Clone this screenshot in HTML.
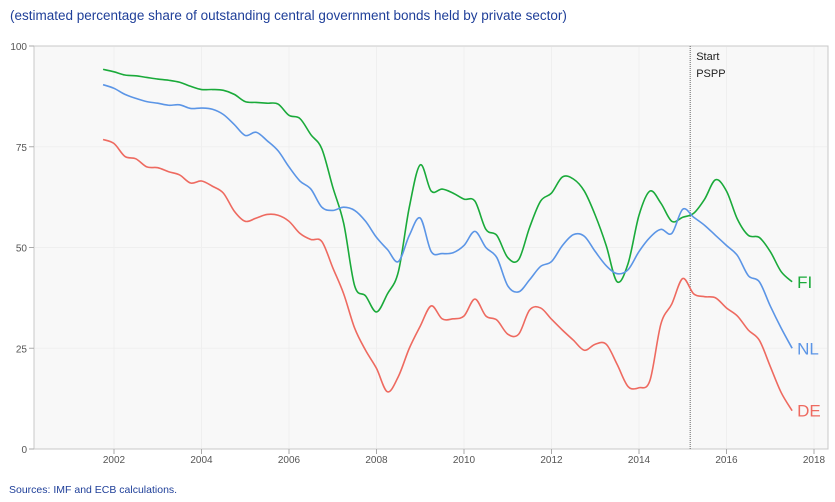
<!DOCTYPE html>
<html><head><meta charset="utf-8"><style>
body{margin:0;background:#fff;width:835px;height:497px;overflow:hidden;font-family:"Liberation Sans",sans-serif}
</style></head><body>
<svg width="835" height="497" id="chart">
<text x="10" y="20" font-size="13.5" fill="#1f3f99">(estimated percentage share of outstanding central government bonds held by private sector)</text>
<text x="9" y="493" font-size="10.5" fill="#1f3f99">Sources: IMF and ECB calculations.</text>
<rect x="34" y="46" width="794" height="403" fill="#f8f8f8" stroke="#c8c8c8"/>
<g id="axes"></g>
<g id="series"></g>
</svg>
<script>
const years=[2001.75,2002,2002.25,2002.5,2002.75,2003,2003.25,2003.5,2003.75,2004,2004.25,2004.5,2004.75,2005,2005.25,2005.5,2005.75,2006,2006.25,2006.5,2006.75,2007,2007.25,2007.5,2007.75,2008,2008.25,2008.5,2008.75,2009,2009.25,2009.5,2009.75,2010,2010.25,2010.5,2010.75,2011,2011.25,2011.5,2011.75,2012,2012.25,2012.5,2012.75,2013,2013.25,2013.5,2013.75,2014,2014.25,2014.5,2014.75,2015,2015.25,2015.5,2015.75,2016,2016.25,2016.5,2016.75,2017,2017.25,2017.5];
const fiValues=[94.2,93.6,92.8,92.6,92.2,91.8,91.5,91,90,89.2,89.2,89,88,86.2,86,85.8,85.6,82.8,82,78,74.5,65,56,40.5,38,34,38.5,44,60,70.5,64,64.5,63.5,62,61.5,54.5,53,47.5,47,55,61.5,63.5,67.5,67,64,58,50.5,41.5,46,58,64,61,56.5,57.5,58.5,62,66.8,64,57,53,52.5,49,44,41.5];
const nlValues=[90.4,89.5,88,87,86.2,85.8,85.3,85.4,84.5,84.6,84.3,83,80.5,77.8,78.6,76.5,74,70,66.5,64.5,60,59.2,60,59.2,56.5,52.5,49.5,46.5,53,57.3,49,48.5,48.7,50.5,54,50,47.5,40.5,39,42,45.3,46.5,50.5,53.2,52.8,49,45.5,43.5,44.5,49,52.5,54.5,53.5,59.5,57.5,55.5,53,50.5,48,43,41.5,35.5,30,25];
const deValues=[76.8,75.8,72.6,72,70,69.8,68.8,68,66,66.5,65.2,63.5,59,56.5,57.3,58.2,58,56.5,53.5,52,51.5,45,38.5,30,24.5,20,14.2,18,25,30.5,35.5,32.3,32.3,33,37.2,33,32,28.5,28.5,34.5,35,32.2,29.5,27,24.5,26,26,21,15.5,15.2,17,31,36,42.3,38.5,37.8,37.5,35,33,29.5,27,20.5,14,9.5];
const yTicks=[0,25,50,75,100];
const xTicks=[2002,2004,2006,2008,2010,2012,2014,2016,2018];
const seriesNames=["FI","NL","DE"];
const psppYear=2015.17;

const ns="http://www.w3.org/2000/svg";
const X=y=>114+(y-2002)*43.75;
const Y=v=>449-v*4.03;
const axes=document.getElementById('axes'),sg=document.getElementById('series');
function mk(tag,at,parent){const e=document.createElementNS(ns,tag);for(const k in at)e.setAttribute(k,at[k]);parent.appendChild(e);return e;}
yTicks.forEach(t=>{
  if(t>0&&t<100){const g=mk('line',{x1:35,x2:827,y1:Y(t),y2:Y(t),stroke:'#efefef'},axes);
  
  }
  const tk=mk('line',{x1:29,x2:34,y1:Y(t),y2:Y(t),stroke:'#aaa'},axes);
  
  
  const l=mk('text',{x:27,y:Y(t)+4,'font-size':10,'text-anchor':'end',fill:'#555'},axes);l.textContent=t;
  
  
});
xTicks.forEach(t=>{
  const g=mk('line',{x1:X(t),x2:X(t),y1:47,y2:448,stroke:'#efefef'},axes);
  
  
  const tk=mk('line',{x1:X(t),x2:X(t),y1:449,y2:454,stroke:'#aaa'},axes);
  
  
  const l=mk('text',{x:X(t),y:463,'font-size':10,'text-anchor':'middle',fill:'#555'},axes);l.textContent=t;
  
  
});
const vl=mk('line',{x1:X(psppYear),x2:X(psppYear),y1:46,y2:449,stroke:'#666','stroke-dasharray':'1,1'},axes);


[['Start',60],['PSPP',77]].forEach(([s,yy])=>{const t=mk('text',{x:X(psppYear)+6,y:yy,'font-size':11,fill:'#222'},axes);t.textContent=s;

});
function path(vals){const p=years.map((y,i)=>[X(y),Y(vals[i])]);let d='M'+p[0][0]+','+p[0][1];
  for(let i=0;i<p.length-1;i++){const p0=p[Math.max(0,i-1)],p1=p[i],p2=p[i+1],p3=p[Math.min(p.length-1,i+2)];
  d+=` C${p1[0]+(p2[0]-p0[0])/6},${p1[1]+(p2[1]-p0[1])/6} ${p2[0]-(p3[0]-p1[0])/6},${p2[1]-(p3[1]-p1[1])/6} ${p2[0]},${p2[1]}`;}return d;}
const data=[fiValues,nlValues,deValues],cols=['#1aaa3a','#5b95e6','#ee6a60'];
data.forEach((v,i)=>{
  const pth=mk('path',{d:path(v),fill:'none',stroke:cols[i],'stroke-width':1.6},sg);
  
  
  const t=mk('text',{x:X(years[years.length-1])+5,y:Y(v[v.length-1])+6,'font-size':17,fill:cols[i]},sg);t.textContent=seriesNames[i];
  
  
});
</script>
</body></html>
